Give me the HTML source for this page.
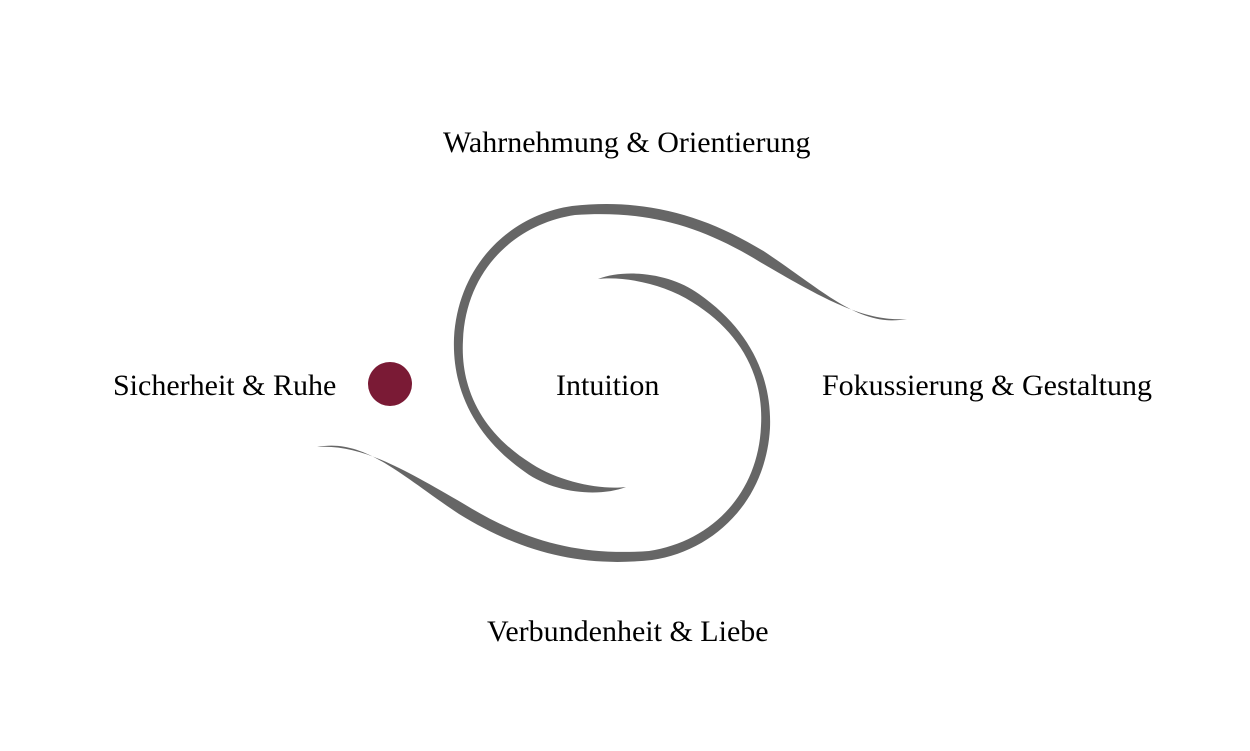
<!DOCTYPE html>
<html><head><meta charset="utf-8"><style>
body{margin:0;background:#fff;}
.w{position:relative;width:1250px;height:751px;overflow:hidden;font-family:"Liberation Serif",serif;font-size:30px;color:#000;}
.t{position:absolute;white-space:nowrap;line-height:1;}
</style></head><body><div class="w">
<svg width="1250" height="751" style="position:absolute;left:0;top:0">
<g fill="#666">
<path d="M626,487 C600,497 555,494 525,472 C475,437 452,390 454,338 C458,265 510,215 572,206 C645,198 705,215 765,252 C825,292 860,328 907,319 C865,322 825,300 760,262 C700,225 645,210 575,215 C515,224 466,270 463,340 C460,392 485,435 532,464 C560,482 600,490 626,487 Z"/>
</g>
<g fill="#666" transform="rotate(180 612 383)">
<path d="M626,487 C600,497 555,494 525,472 C475,437 452,390 454,338 C458,265 510,215 572,206 C645,198 705,215 765,252 C825,292 860,328 907,319 C865,322 825,300 760,262 C700,225 645,210 575,215 C515,224 466,270 463,340 C460,392 485,435 532,464 C560,482 600,490 626,487 Z"/>
</g>
<circle cx="390" cy="384" r="22" fill="#7a1a35"/>
</svg>
<div class="t" style="left:443px;top:128px">Wahrnehmung &amp; Orientierung</div>
<div class="t" style="left:113px;top:371px">Sicherheit &amp; Ruhe</div>
<div class="t" style="left:556px;top:371px">Intuition</div>
<div class="t" style="left:822px;top:371px">Fokussierung &amp; Gestaltung</div>
<div class="t" style="left:487px;top:617px">Verbundenheit &amp; Liebe</div>
</div></body></html>
